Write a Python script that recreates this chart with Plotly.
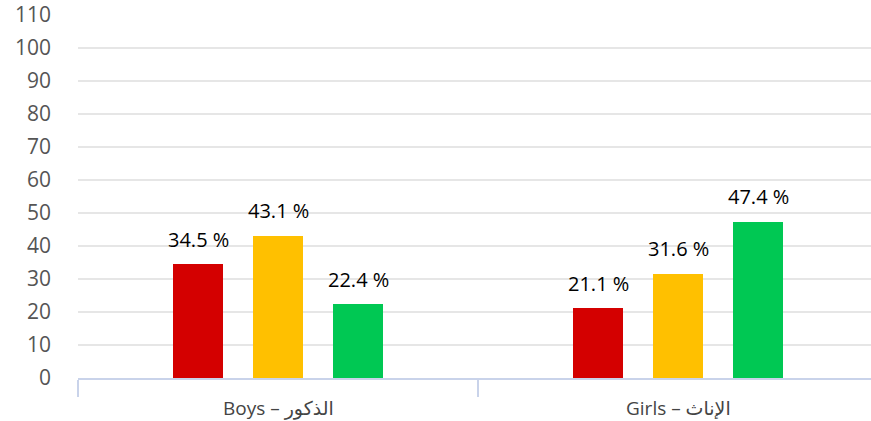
import plotly.graph_objects as go

groups = ["Boys – الذكور", "Girls – الإناث"]
series_names = ["Red", "Yellow", "Green"]
values = {
    "Red": [34.5, 21.1],
    "Yellow": [43.1, 31.6],
    "Green": [22.4, 47.4],
}
colors = {"Red": "#d40000", "Yellow": "#ffc000", "Green": "#00c853"}
y_ticks = list(range(0, 111, 10))

offsets = [-0.2, 0.0, 0.2]
bar_width = 0.123
group_pos = list(range(len(groups)))

fig = go.Figure()
for name, off in zip(series_names, offsets):
    xs = [g + off for g in group_pos]
    fig.add_trace(go.Bar(
        x=xs, y=values[name], width=bar_width,
        marker=dict(color=colors[name], line=dict(width=0)),
        showlegend=False, hoverinfo="skip",
    ))
    for x, v in zip(xs, values[name]):
        fig.add_annotation(
            x=x, y=v, text=f"{v:.1f} %", showarrow=False,
            yanchor="middle", yshift=25,
            font=dict(family="Open Sans", size=20, color="#000000", weight=500),
        )

for g, label in zip(group_pos, groups):
    fig.add_annotation(
        x=g, y=0, yref="paper", text=label, showarrow=False,
        yanchor="top", yshift=-15,
        font=dict(family="Open Sans, DejaVu Sans", size=19, color="#444444"),
    )

boundaries = [g - 0.5 for g in group_pos] + [group_pos[-1] + 0.5]

fig.update_layout(
    width=871, height=421,
    margin=dict(l=78, r=0, t=15, b=43, autoexpand=False),
    plot_bgcolor="white", paper_bgcolor="white",
    bargap=0,
    xaxis=dict(
        range=[-0.5, 1.4825], tickvals=boundaries, showticklabels=False,
        ticks="outside", ticklen=17, tickwidth=2, tickcolor="#c9d3ea",
        showline=True, linecolor="#c9d3ea", linewidth=2,
        showgrid=False, zeroline=False,
    ),
    yaxis=dict(
        range=[0, 110], tickvals=y_ticks, showline=False,
        gridcolor="#e6e6e6", gridwidth=2, zeroline=False,
        tickfont=dict(family="Open Sans", size=21, color="#555555"),
        ticklabelstandoff=26,
    ),
)

fig.write_html(
    "out.html",
    config={"displayModeBar": False},
    post_script="document.body.style.margin='0';document.body.style.overflow='hidden';",
)
